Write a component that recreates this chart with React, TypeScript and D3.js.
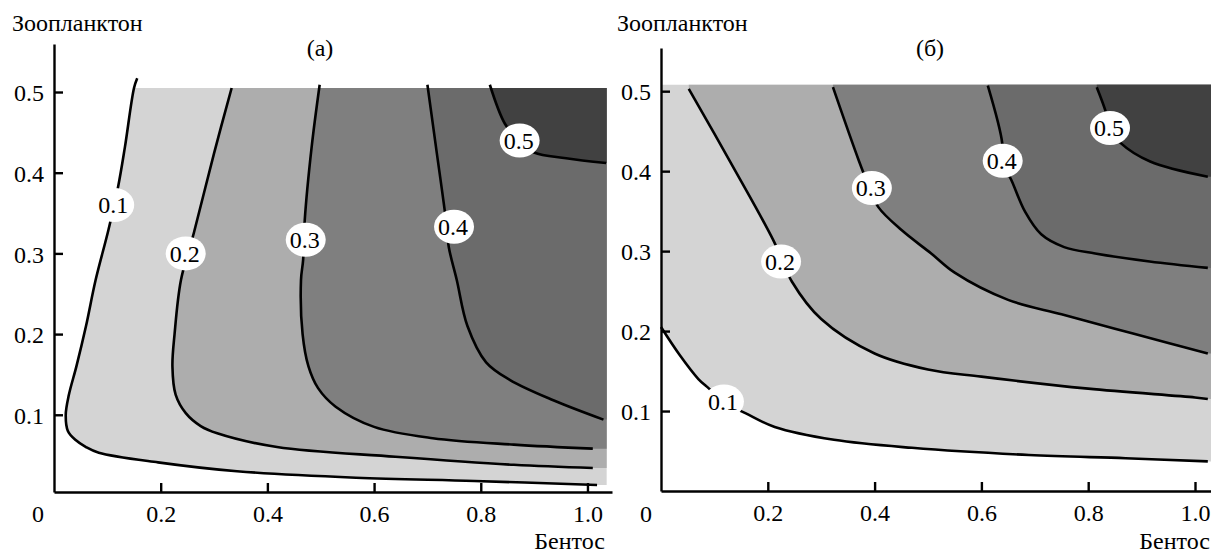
import React, { useRef, useEffect } from 'react';
import * as d3 from 'd3';

type Pt = [number, number];

// contour levels and tick values
const levels = [0.1, 0.2, 0.3, 0.4, 0.5];
const xTicks = [0.2, 0.4, 0.6, 0.8, 1.0];
const yTicks = [0.1, 0.2, 0.3, 0.4, 0.5];

// panel (а): contour lines, [Бентос, Зоопланктон]
const a01: Pt[] = [[0.156, 0.517], [0.150, 0.505], [0.133, 0.432], [0.12, 0.382], [0.102, 0.329], [0.078, 0.267], [0.06, 0.21], [0.042, 0.16], [0.028, 0.125], [0.022, 0.1], [0.026, 0.08], [0.04, 0.069], [0.06, 0.06], [0.084, 0.053], [0.195, 0.041], [0.343, 0.030], [0.566, 0.022], [0.788, 0.018], [1.018, 0.013]];
const a02: Pt[] = [[0.333, 0.505], [0.30, 0.424], [0.262, 0.325], [0.238, 0.267], [0.226, 0.2], [0.222, 0.16], [0.228, 0.125], [0.247, 0.102], [0.275, 0.086], [0.306, 0.077], [0.418, 0.060], [0.64, 0.048], [0.862, 0.038], [1.01, 0.034]];
const a03: Pt[] = [[0.498, 0.509], [0.483, 0.432], [0.47, 0.341], [0.467, 0.292], [0.463, 0.267], [0.466, 0.2], [0.477, 0.16], [0.495, 0.133], [0.528, 0.110], [0.60, 0.085], [0.71, 0.071], [0.862, 0.063], [1.01, 0.058]];
const a04: Pt[] = [[0.70, 0.509], [0.716, 0.432], [0.734, 0.345], [0.74, 0.308], [0.755, 0.267], [0.775, 0.21], [0.81, 0.165], [0.855, 0.143], [0.936, 0.118], [1.03, 0.094]];
const a05: Pt[] = [[0.817, 0.509], [0.845, 0.461], [0.871, 0.44], [0.9, 0.425], [0.96, 0.418], [1.035, 0.412]];
const aLabels: Pt[] = [[0.111, 0.36], [0.245, 0.30], [0.47, 0.317], [0.748, 0.333], [0.871, 0.44]];

// panel (б)
const b01: Pt[] = [[0, 0.205], [0.035, 0.17], [0.07, 0.14], [0.09, 0.128], [0.116, 0.112], [0.159, 0.097], [0.213, 0.080], [0.324, 0.064], [0.47, 0.054], [0.689, 0.045], [0.87, 0.041], [1.024, 0.037]];
const b02: Pt[] = [[0.052, 0.503], [0.131, 0.41], [0.21, 0.314], [0.245, 0.262], [0.3, 0.215], [0.4, 0.172], [0.5, 0.152], [0.6, 0.143], [0.8, 0.128], [1.0, 0.117], [1.024, 0.115]];
const b03: Pt[] = [[0.322, 0.505], [0.37, 0.414], [0.39, 0.38], [0.407, 0.355], [0.451, 0.326], [0.506, 0.297], [0.55, 0.273], [0.65, 0.239], [0.75, 0.221], [0.85, 0.203], [0.95, 0.185], [1.024, 0.172]];
const b04: Pt[] = [[0.612, 0.507], [0.639, 0.435], [0.638, 0.413], [0.656, 0.389], [0.682, 0.349], [0.712, 0.321], [0.755, 0.305], [0.813, 0.297], [0.915, 0.287], [1.024, 0.279]];
const b05: Pt[] = [[0.816, 0.505], [0.833, 0.474], [0.84, 0.454], [0.861, 0.435], [0.916, 0.412], [1.024, 0.393]];
const bLabels: Pt[] = [[0.116, 0.112], [0.223, 0.287], [0.393, 0.379], [0.638, 0.413], [0.839, 0.454]];

const fills = ['#d4d4d4', '#adadad', '#7f7f7f', '#6b6b6b', '#414141'];
const font = 'Liberation Serif, Times New Roman, serif';
const fs = 24;

const App = () => {
  const svgRef = useRef<SVGSVGElement>(null);

  useEffect(() => {
    const svg = d3.select(svgRef.current);
    svg.selectAll('*').remove();

    const panels = [
      {
        id: 'a',
        x: d3.scaleLinear().domain([0, 1.046]).range([54, 612]),
        y: d3.scaleLinear().domain([0.0043, 0.5595]).range([492, 44]),
        lines: [a01, a02, a03, a04, a05],
        labels: aLabels,
        clip: [0, 1.036, 0, 0.505],
        title: 'Зоопланктон', titleX: 12,
        tag: '(а)', tagX: 320,
        zeroX: 38, bentosX: 605,
      },
      {
        id: 'b',
        x: d3.scaleLinear().domain([0, 1.1]).range([661, 1248.4]),
        y: d3.scaleLinear().domain([0, 0.554]).range([491, 48]),
        lines: [b01, b02, b03, b04, b05],
        labels: bLabels,
        clip: [0.002, 1.1, 0, 0.508],
        title: 'Зоопланктон', titleX: 617,
        tag: '(б)', tagX: 930,
        zeroX: 646, bentosX: 1210,
      },
    ];

    panels.forEach(p => {
      const { x, y } = p;
      const g = svg.append('g');

      g.append('clipPath').attr('id', `clip-${p.id}`)
        .append('rect')
        .attr('x', x(p.clip[0]))
        .attr('y', y(p.clip[3]))
        .attr('width', x(p.clip[1]) - x(p.clip[0]))
        .attr('height', y(p.clip[2]) - y(p.clip[3]));

      const line = d3.line<Pt>()
        .x(d => x(d[0]))
        .y(d => y(d[1]))
        .curve(d3.curveCatmullRom.alpha(0.5));

      // filled bands, each level drawn over the previous one
      const fg = g.append('g').attr('clip-path', `url(#clip-${p.id})`);
      p.lines.forEach((pts, i) => {
        const first = pts[0];
        const last = pts[pts.length - 1];
        let d = line(pts) + `L${x(1.4)},${y(last[1])}L${x(1.4)},${y(0.8)}`;
        if (first[0] <= 0.001) d += `L${x(-0.3)},${y(0.8)}L${x(-0.3)},${y(first[1])}Z`;
        else d += `L${x(first[0])},${y(0.8)}Z`;
        fg.append('path').attr('d', d).attr('fill', fills[i]);
      });

      // contour lines
      g.append('g')
        .selectAll('path')
        .data(p.lines)
        .enter().append('path')
        .attr('d', d => line(d))
        .attr('fill', 'none')
        .attr('stroke', '#000')
        .attr('stroke-width', 2.6);

      // level labels on white blobs
      const lg = g.append('g');
      p.labels.forEach((d, i) => {
        lg.append('ellipse')
          .attr('cx', x(d[0]) + 1)
          .attr('cy', y(d[1]))
          .attr('rx', 20)
          .attr('ry', 17)
          .attr('fill', '#fff');
        lg.append('text')
          .attr('x', x(d[0]))
          .attr('y', y(d[1]))
          .attr('dy', '0.35em')
          .attr('text-anchor', 'middle')
          .style('font-family', font)
          .style('font-size', `${fs}px`)
          .text(d3.format('.1f')(levels[i]));
      });

      // axes
      const xa = g.append('g')
        .attr('transform', `translate(0,${y.range()[0]})`)
        .call(d3.axisBottom(x).tickValues(xTicks).tickSize(-9).tickSizeOuter(0).tickPadding(13).tickFormat(d3.format('.1f')));
      const ya = g.append('g')
        .attr('transform', `translate(${x.range()[0]},0)`)
        .call(d3.axisLeft(y).tickValues(yTicks).tickSize(-9).tickSizeOuter(0).tickPadding(10).tickFormat(d3.format('.1f')));
      [xa, ya].forEach(a => {
        a.selectAll('text').style('font-family', font).style('font-size', `${fs}px`);
        a.selectAll('path, line').attr('stroke-width', 2.4);
      });
      ya.selectAll('text').attr('dy', '0.36em');

      const label = (tx: number, ty: number, anchor: string, s: string) =>
        g.append('text')
          .attr('x', tx).attr('y', ty)
          .attr('text-anchor', anchor)
          .style('font-family', font).style('font-size', `${fs}px`)
          .text(s);

      label(p.zeroX, 522, 'middle', '0');
      label(p.titleX, 31, 'start', p.title);
      label(p.tagX, 56, 'middle', p.tag);
      label(p.bentosX, 548.5, 'end', 'Бентос');
    });
  }, []);

  return (
    <svg ref={svgRef} width="1211" height="554"
      style={{ position: 'absolute', left: 0, top: 0, background: '#fff' }}></svg>
  );
};

export default App;
